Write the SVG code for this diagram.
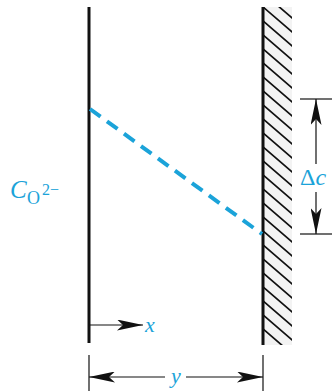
<svg xmlns="http://www.w3.org/2000/svg" width="335" height="391" viewBox="0 0 335 391">
<style>
.blk{stroke:#111;fill:none}
.thin{stroke:#111;stroke-width:1.2;fill:none}
.lbl{font-family:"Liberation Serif",serif;fill:#1ba3d9}
.it{font-style:italic}
</style>
<defs>
<marker id="ah" viewBox="0 0 26 11" refX="26" refY="5.5" markerWidth="26" markerHeight="11" markerUnits="userSpaceOnUse" orient="auto">
<path d="M0,0 L26,5.5 L0,11 L6,5.5 Z" fill="#111"/>
</marker>
<clipPath id="wallclip"><rect x="263" y="7" width="29" height="338"/></clipPath>
</defs>
<rect width="335" height="391" fill="#fff"/>
<g id="left-boundary">
<line x1="89" y1="7" x2="89" y2="343" class="blk" stroke-width="3"/>
</g>
<g id="wall">
<rect x="263" y="7" width="29" height="338" fill="#f3f3f3"/>
<g clip-path="url(#wallclip)" stroke="#111" stroke-width="1.7">
<path d="M263,-21 l35,30 M263,-7 l35,30 M263,7 l35,30 M263,21 l35,30 M263,35 l35,30 M263,49 l35,30 M263,63 l35,30 M263,77 l35,30 M263,91 l35,30 M263,105 l35,30 M263,119 l35,30 M263,133 l35,30 M263,147 l35,30 M263,161 l35,30 M263,175 l35,30 M263,189 l35,30 M263,203 l35,30 M263,217 l35,30 M263,231 l35,30 M263,245 l35,30 M263,259 l35,30 M263,273 l35,30 M263,287 l35,30 M263,301 l35,30 M263,315 l35,30 M263,329 l35,30"/>
</g>
<line x1="263" y1="7" x2="263" y2="345" class="blk" stroke-width="3"/>
</g>
<g id="concentration-profile">
<line x1="90" y1="109" x2="262" y2="234" stroke="#1ba3d9" stroke-width="4" stroke-dasharray="13,8"/>
</g>
<g id="label-C">
<text x="10" y="198" class="lbl it" font-size="25">C</text>
<text x="27" y="204" class="lbl" font-size="18">O</text>
<text x="42" y="195" class="lbl" font-size="16">2−</text>
</g>
<g id="connectors">
<line x1="300" y1="99" x2="332" y2="99" class="thin"/>
<line x1="300" y1="234" x2="332" y2="234" class="thin"/>
<line x1="316" y1="164" x2="316" y2="99" class="thin" marker-end="url(#ah)"/>
<line x1="316" y1="192" x2="316" y2="234" class="thin" marker-end="url(#ah)"/>
<line x1="89" y1="325" x2="143" y2="325" class="thin" marker-end="url(#ah)"/>
<line x1="89" y1="355" x2="89" y2="391" class="thin"/>
<line x1="263" y1="355" x2="263" y2="391" class="thin"/>
<line x1="165" y1="377" x2="89" y2="377" class="thin" marker-end="url(#ah)"/>
<line x1="186" y1="377" x2="263" y2="377" class="thin" marker-end="url(#ah)"/>
</g>
<g id="label-dc">
<text x="300" y="185" class="lbl" font-size="24">Δ<tspan class="it">c</tspan></text>
</g>
<g id="label-x">
<text x="145" y="332" class="lbl it" font-size="22">x</text>
</g>
<g id="label-y">
<text x="176" y="383" class="lbl it" font-size="22" text-anchor="middle">y</text>
</g>
</svg>
